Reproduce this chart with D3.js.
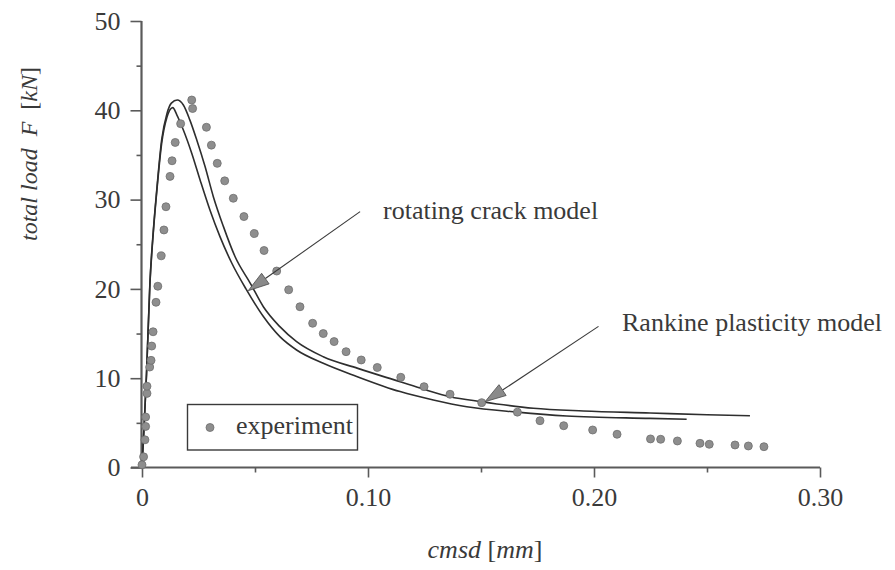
<!DOCTYPE html>
<html>
<head>
<meta charset="utf-8">
<script src="https://cdn.jsdelivr.net/npm/d3@7/dist/d3.min.js"></script>
<style>
  html, body { margin: 0; padding: 0; background: #fff; }
  svg { display: block; }
  text { font-family: "Liberation Serif", "Times New Roman", serif; fill: #3a3a3a; }
</style>
</head>
<body>
<svg id="chart" width="895" height="570"></svg>
<script>
// Experimental measurements: crack mouth sliding displacement [mm] vs. total load [kN]
const expCmsd = [0, 0.0007, 0.0013, 0.0016, 0.0016, 0.0022, 0.0022, 0.0034, 0.0040, 0.0043,
  0.0049, 0.0062, 0.0070, 0.0085, 0.0097, 0.0106, 0.0124, 0.0133, 0.0147, 0.0171,
  0.0220, 0.0224, 0.0285, 0.0307, 0.0333, 0.0366, 0.0404, 0.0451, 0.0497, 0.0540,
  0.0596, 0.0649, 0.0699, 0.0755, 0.0802, 0.0850, 0.0903, 0.0970, 0.1041, 0.1145,
  0.1248, 0.1363, 0.1503, 0.1661, 0.1761, 0.1866, 0.1994, 0.2102, 0.2250, 0.2295,
  0.2369, 0.2469, 0.2510, 0.2624, 0.2683, 0.2752];
const expLoad = [0.3, 1.2, 3.1, 4.6, 5.65, 8.3, 9.1, 11.25, 12.0, 13.6,
  15.2, 18.5, 20.3, 23.7, 26.6, 29.2, 32.6, 34.35, 36.4, 38.5,
  41.15, 40.2, 38.1, 36.1, 34.06, 32.1, 30.15, 28.1, 26.2, 24.3,
  22.0, 19.9, 18.0, 16.15, 15.0, 14.1, 12.97, 12.04, 11.2, 10.1,
  9.05, 8.2, 7.26, 6.2, 5.24, 4.68, 4.2, 3.72, 3.2, 3.16,
  2.97, 2.71, 2.6, 2.52, 2.41, 2.33];

// Rankine plasticity model
const rankineCmsd = [0, 0.001, 0.002, 0.0035, 0.005, 0.0065, 0.0087, 0.011, 0.013, 0.0156,
  0.0183, 0.0212, 0.0242, 0.0279, 0.0316, 0.036, 0.0412, 0.048, 0.0537, 0.061,
  0.0684, 0.0802, 0.0955, 0.1142, 0.1248, 0.1363, 0.1503, 0.1732, 0.1953, 0.2248,
  0.25, 0.269];
const rankineLoad = [0, 5, 10.5, 20.7, 26.5, 31.0, 36.7, 39.6, 40.8, 41.15,
  40.6, 38.9, 36.7, 33.7, 30.3, 27.0, 23.6, 20.6, 18.0, 15.77,
  14.09, 12.4, 11.1, 9.6, 8.75, 7.93, 7.37, 6.63, 6.33, 6.1,
  5.9, 5.8];

// Rotating crack model
const rotatingCmsd = [0, 0.001, 0.002, 0.0035, 0.005, 0.0065, 0.0087, 0.011, 0.0136, 0.0154,
  0.0183, 0.022, 0.0257, 0.0301, 0.0345, 0.0397, 0.046, 0.0537, 0.061, 0.0684,
  0.0802, 0.095, 0.1142, 0.1289, 0.1437, 0.166, 0.1879, 0.2248, 0.241];
const rotatingLoad = [0, 5, 10.5, 20.5, 26.3, 30.8, 36.3, 39.2, 40.3, 39.5,
  37.8, 35.2, 32.2, 28.8, 25.85, 22.9, 20.0, 16.9, 14.65, 13.16,
  11.67, 10.2, 8.5, 7.56, 6.81, 6.2, 5.77, 5.5, 5.4];

const xMajorTicks = [0, 0.10, 0.20, 0.30];
const xMajorLabels = ["0", "0.10", "0.20", "0.30"];
const xMinorTicks = [0.05, 0.15, 0.25];
const yMajorTicks = [0, 10, 20, 30, 40, 50];
const yMinorTicks = [5, 15, 25, 35, 45];

const svg = d3.select("#chart");
const x = d3.scaleLinear().domain([0, 0.30]).range([142, 820]);
const y = d3.scaleLinear().domain([0, 50]).range([467.5, 21]);

const axisColor = "#5a5a5a";

// X axis: major ticks with labels, minor ticks without
const xAxis = svg.append("g").attr("transform", `translate(0,${y(0)})`);
xAxis.call(d3.axisBottom(x).tickValues(xMajorTicks).tickSize(10)
    .tickFormat((d, i) => xMajorLabels[i]).tickPadding(10));
xAxis.select(".domain").remove();
xAxis.append("line").attr("x1", 131).attr("x2", x(0.30)).attr("y1", 0).attr("y2", 0);
const xMinor = svg.append("g").attr("transform", `translate(0,${y(0)})`);
xMinor.call(d3.axisBottom(x).tickValues(xMinorTicks).tickSize(5).tickFormat(""));
xMinor.select(".domain").remove();

// Y axis
const yAxis = svg.append("g").attr("transform", `translate(${x(0) - 0.5},0)`);
yAxis.call(d3.axisLeft(y).tickValues(yMajorTicks).tickSize(11).tickPadding(10));
yAxis.select(".domain").remove();
yAxis.append("line").attr("x1", 0).attr("x2", 0).attr("y1", y(50)).attr("y2", y(0) + 1);
const yMinor = svg.append("g").attr("transform", `translate(${x(0) - 0.5},0)`);
yMinor.call(d3.axisLeft(y).tickValues(yMinorTicks).tickSize(5).tickFormat(""));
yMinor.select(".domain").remove();

svg.selectAll(".tick line").attr("stroke", axisColor).attr("stroke-width", 1.6);
xAxis.select(":scope > line").attr("stroke", axisColor).attr("stroke-width", 2.2);
yAxis.select(":scope > line").attr("stroke", axisColor).attr("stroke-width", 2.2);
svg.selectAll(".tick text")
  .attr("font-family", "Liberation Serif, Times New Roman, serif")
  .attr("font-size", 26).attr("fill", "#3a3a3a");

// Model curves
const line = d3.line().x(d => x(d[0])).y(d => y(d[1])).curve(d3.curveMonotoneX);
const curveColor = "#2e2e2e";
svg.append("path").datum(d3.zip(rankineCmsd, rankineLoad))
  .attr("d", line).attr("fill", "none").attr("stroke", curveColor).attr("stroke-width", 1.6);
svg.append("path").datum(d3.zip(rotatingCmsd, rotatingLoad))
  .attr("d", line).attr("fill", "none").attr("stroke", curveColor).attr("stroke-width", 1.6);

// Experiment dots
svg.append("g").selectAll("circle").data(d3.zip(expCmsd, expLoad)).join("circle")
  .attr("cx", d => x(d[0])).attr("cy", d => y(d[1])).attr("r", 4)
  .attr("fill", "#8e8e8e").attr("stroke", "#6e6e6e").attr("stroke-width", 0.8);

// Arrow annotations (start and tip in data units)
function arrow(from, to) {
  const x1 = x(from[0]), y1 = y(from[1]), x2 = x(to[0]), y2 = y(to[1]);
  const ang = Math.atan2(y2 - y1, x2 - x1);
  const len = 21, half = 6.5;
  const bx = x2 - len * Math.cos(ang), by = y2 - len * Math.sin(ang);
  svg.append("line").attr("x1", x1).attr("y1", y1).attr("x2", bx).attr("y2", by)
    .attr("stroke", "#3a3a3a").attr("stroke-width", 1.1);
  const px = -Math.sin(ang) * half, py = Math.cos(ang) * half;
  svg.append("path")
    .attr("d", `M${x2},${y2}L${bx + px},${by + py}L${bx - px},${by - py}Z`)
    .attr("fill", "#8a8a8a").attr("stroke", "#4a4a4a").attr("stroke-width", 0.8);
}
arrow([0.0965, 28.65], [0.047, 19.8]);
arrow([0.202, 15.8], [0.1518, 7.37]);

// Annotation labels
svg.append("text").attr("x", 383).attr("y", 219).attr("font-size", 26)
  .text("rotating crack model");
svg.append("text").attr("x", 622).attr("y", 331).attr("font-size", 26)
  .text("Rankine plasticity model");

// Legend
svg.append("rect").attr("x", 187.5).attr("y", 404.5).attr("width", 170).attr("height", 45.5)
  .attr("fill", "none").attr("stroke", "#3a3a3a").attr("stroke-width", 1.4);
svg.append("circle").attr("cx", 210).attr("cy", 427.5).attr("r", 4)
  .attr("fill", "#8e8e8e").attr("stroke", "#6e6e6e").attr("stroke-width", 0.8);
svg.append("text").attr("x", 236).attr("y", 434).attr("font-size", 26).text("experiment");

// Axis titles
const xt = svg.append("text").attr("x", 485).attr("y", 558).attr("text-anchor", "middle")
  .attr("font-size", 26).attr("xml:space", "preserve");
xt.append("tspan").attr("font-style", "italic").text("cmsd");
xt.append("tspan").text(" [");
xt.append("tspan").attr("font-style", "italic").text("mm");
xt.append("tspan").text("]");

const yt = svg.append("text").attr("transform", "translate(37,154) rotate(-90)")
  .attr("text-anchor", "middle").attr("font-size", 24).attr("xml:space", "preserve");
yt.append("tspan").attr("font-style", "italic").text("total load  F  ");
yt.append("tspan").text("[");
yt.append("tspan").attr("font-style", "italic").text("kN");
yt.append("tspan").text("]");
</script>
</body>
</html>
